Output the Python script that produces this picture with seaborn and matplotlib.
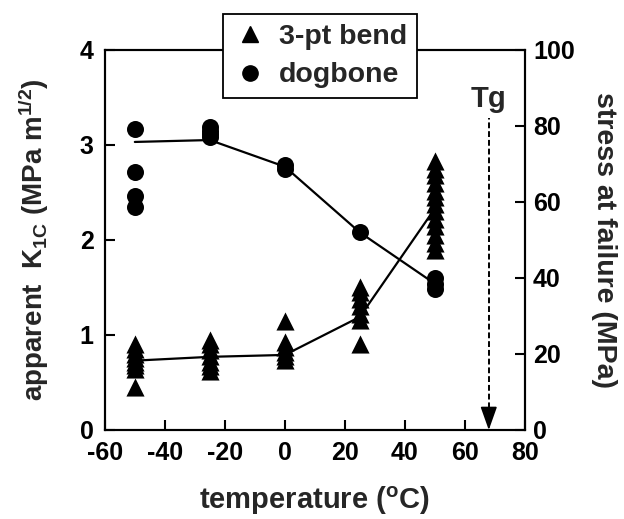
import matplotlib
matplotlib.use("Agg")
import matplotlib.pyplot as plt
import seaborn as sns
import pandas as pd
from matplotlib.lines import Line2D

sns.set_theme(style="white")
plt.rcParams["font.family"] = ["Liberation Sans", "DejaVu Sans"]
plt.rcParams["font.weight"] = "bold"
plt.rcParams["axes.unicode_minus"] = False
plt.rcParams["mathtext.fontset"] = "custom"
plt.rcParams["mathtext.rm"] = "Liberation Sans:bold"
plt.rcParams["mathtext.it"] = "Liberation Sans:bold"
plt.rcParams["mathtext.bf"] = "Liberation Sans:bold"

# 3-pt bend fracture toughness (left axis, MPa m^1/2)
bend_temp = ([-50] * 8) + ([-25] * 7) + ([0] * 6) + ([25] * 7) + ([50] * 13)
bend_k1c = [0.90, 0.85, 0.80, 0.76, 0.72, 0.68, 0.64, 0.45,
            0.95, 0.90, 0.84, 0.78, 0.72, 0.67, 0.62,
            1.15, 0.93, 0.87, 0.82, 0.78, 0.74,
            1.50, 1.45, 1.38, 1.30, 1.22, 1.16, 0.90,
            2.83, 2.75, 2.68, 2.60, 2.52, 2.45, 2.38, 2.30, 2.22, 2.15, 2.05, 1.97, 1.89]
bend_line_temp = [-50, -25, 0, 25, 50]
bend_line_k1c = [0.73, 0.77, 0.79, 1.19, 2.33]

# dogbone tensile stress at failure (right axis, MPa)
dog_temp = [-50, -50, -50, -50, -25, -25, -25, -25, 0, 0, 25, 50, 50, 50]
dog_stress = [79.3, 68.0, 61.5, 58.8, 79.8, 78.8, 78.0, 77.0, 69.8, 68.8, 52.0, 40.0, 38.3, 37.0]
dog_line_temp = [-50, -25, 0, 25, 50]
dog_line_stress = [75.8, 76.3, 69.3, 52.0, 38.5]

tg_temp = 68

bend = pd.DataFrame({"temperature": bend_temp, "k1c": bend_k1c})
bend_line = pd.DataFrame({"temperature": bend_line_temp, "k1c": bend_line_k1c})
dog = pd.DataFrame({"temperature": dog_temp, "stress": dog_stress})
dog_line = pd.DataFrame({"temperature": dog_line_temp, "stress": dog_line_stress})

fig = plt.figure(figsize=(6.24, 5.19), dpi=100)
ax = fig.add_axes([0.168, 0.1715, 0.673, 0.7322])
ax2 = ax.twinx()

sns.lineplot(data=bend_line, x="temperature", y="k1c", ax=ax, color="black", lw=1.6)
sns.scatterplot(data=bend, x="temperature", y="k1c", ax=ax, marker="^", s=170,
                color="black", edgecolor="black", linewidth=0)
sns.lineplot(data=dog_line, x="temperature", y="stress", ax=ax2, color="black", lw=1.6)
sns.scatterplot(data=dog, x="temperature", y="stress", ax=ax2, marker="o", s=150,
                color="black", edgecolor="black", linewidth=0)

ax.set_xlim(-60, 80)
ax.set_ylim(0, 4)
ax2.set_ylim(0, 100)
ax.set_xticks(range(-60, 81, 20))
ax.set_yticks([0, 1, 2, 3, 4])
ax2.set_yticks([0, 20, 40, 60, 80, 100])

for a in (ax, ax2):
    for s in a.spines.values():
        s.set_linewidth(1.5)
        s.set_color("black")
ax.tick_params(axis="both", direction="in", length=7, width=1.5, labelsize=18,
               colors="black", pad=8)
ax.tick_params(axis="x", top=False, bottom=True)
ax.tick_params(axis="y", left=True, right=False)
ax2.tick_params(axis="y", direction="in", length=7, width=1.5, labelsize=18,
                colors="black", pad=6, right=True)
for lab in ax.get_xticklabels() + ax.get_yticklabels() + ax2.get_yticklabels():
    lab.set_fontweight("bold")

ax.set_xlabel("temperature ($\\mathregular{^o}$C)", fontsize=21, fontweight="bold", labelpad=14)
ax.set_ylabel("apparent  K$\\mathregular{_{1C}}$ (MPa m$\\mathregular{^{1/2}}$)",
              fontsize=20, fontweight="bold", labelpad=21)
ax2.set_ylabel("stress at failure (MPa)", fontsize=20.5, fontweight="bold",
               rotation=270, labelpad=30)

# glass transition marker: dashed shaft with a solid arrowhead
ax.plot([tg_temp, tg_temp], [0.14, 3.28], color="black", lw=1.4,
        linestyle=(0, (3, 1.5)))
ax.annotate("", xy=(tg_temp, 0), xytext=(tg_temp, 0.22),
            arrowprops=dict(arrowstyle="-|>,head_length=0.9,head_width=0.32",
                            color="black", lw=1.2, mutation_scale=16,
                            shrinkA=0, shrinkB=0))
ax.text(tg_temp, 3.48, "Tg", ha="center", va="center", fontsize=21, fontweight="bold")

handles = [Line2D([], [], marker="^", color="black", ls="none", markersize=12),
           Line2D([], [], marker="o", color="black", ls="none", markersize=11)]
leg = ax2.legend(handles, ["3-pt bend", "dogbone"], loc="center",
                 bbox_to_anchor=(0.512, 0.984), frameon=True, fancybox=False,
                 framealpha=1, edgecolor="black", fontsize=20.5, handletextpad=0.4,
                 handlelength=1.2, borderpad=0.35, labelspacing=0.45)
leg.get_frame().set_linewidth(1.3)
for t in leg.get_texts():
    t.set_fontweight("bold")

fig.savefig("out.png", dpi=100)
